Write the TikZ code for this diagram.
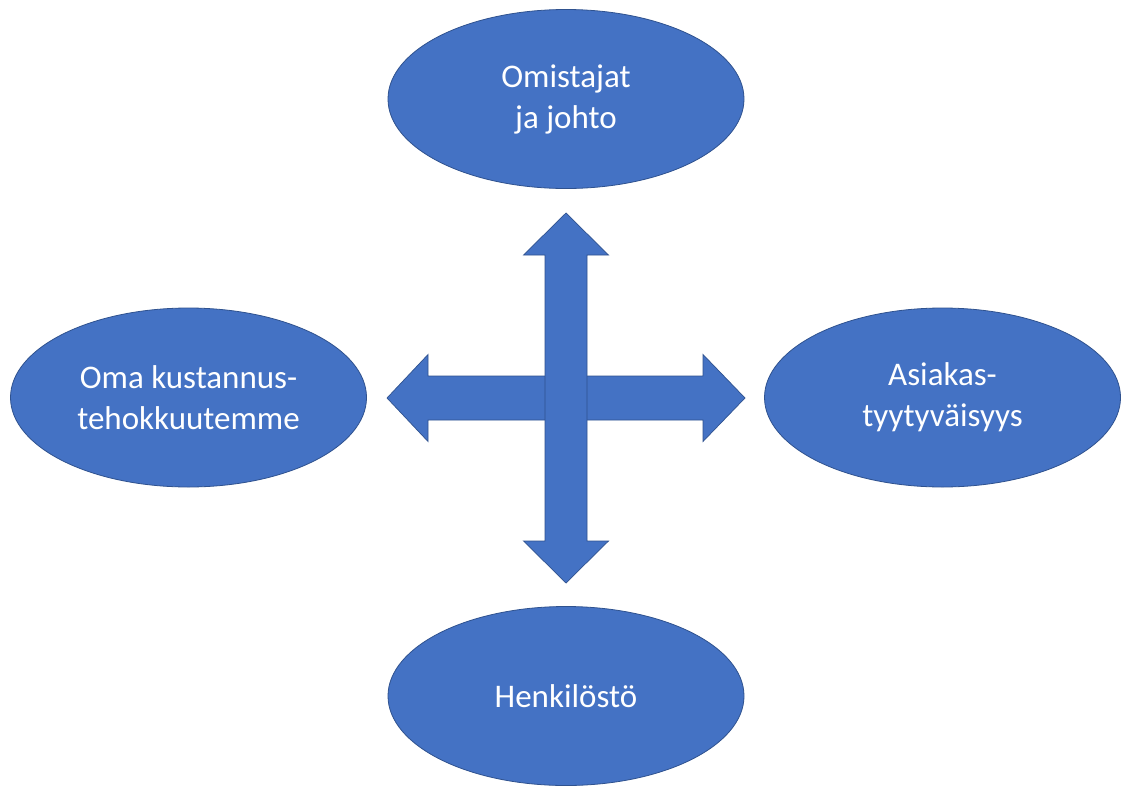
\documentclass[tikz,border=0pt]{standalone}
\usepackage{fontspec}
\setmainfont{Carlito}
\usetikzlibrary{shapes.geometric}
\definecolor{blobfill}{HTML}{4472C4}
\definecolor{blobedge}{HTML}{2F528F}
\begin{document}
\begin{tikzpicture}[x=1pt,y=-1pt,
  blob/.style={ellipse, draw=blobedge, line width=0.8pt, fill=blobfill,
    minimum width=356pt, minimum height=179pt, inner sep=0pt,
    text=white, align=center,
    font=\fontsize{33pt}{41pt}\selectfont},
  bigarrow/.style={draw=blobedge, line width=0.7pt, fill=blobfill, line join=miter}]
\useasboundingbox (0,0) rectangle (1123,787);
\fill[white] (0,0) rectangle (1123,787);

% the four stakeholder ellipses
\node[blob] (top)    at (566,99)  {Omistajat\\ja johto};
\node[blob] (left)   at (188.5,397.5) {Oma kustannus-\\tehokkuutemme};
\node[blob] (right)  at (942.5,397.5) {Asiakas-\\tyytyväisyys};
\node[blob] (bottom) at (566,696)   {Henkilöstö};

% crossing double-headed block arrows
\coordinate (c) at (566,398);
\draw[bigarrow] (387,398) -- (428,354.5) -- (428,376) -- (703,376) -- (703,354.5)
  -- (745,398) -- (703,441.5) -- (703,420) -- (428,420) -- (428,441.5) -- cycle;
\draw[bigarrow] (566,213) -- (608.5,255) -- (587,255) -- (587,541) -- (608.5,541)
  -- (566,583) -- (523.5,541) -- (545,541) -- (545,255) -- (523.5,255) -- cycle;
\end{tikzpicture}
\end{document}
